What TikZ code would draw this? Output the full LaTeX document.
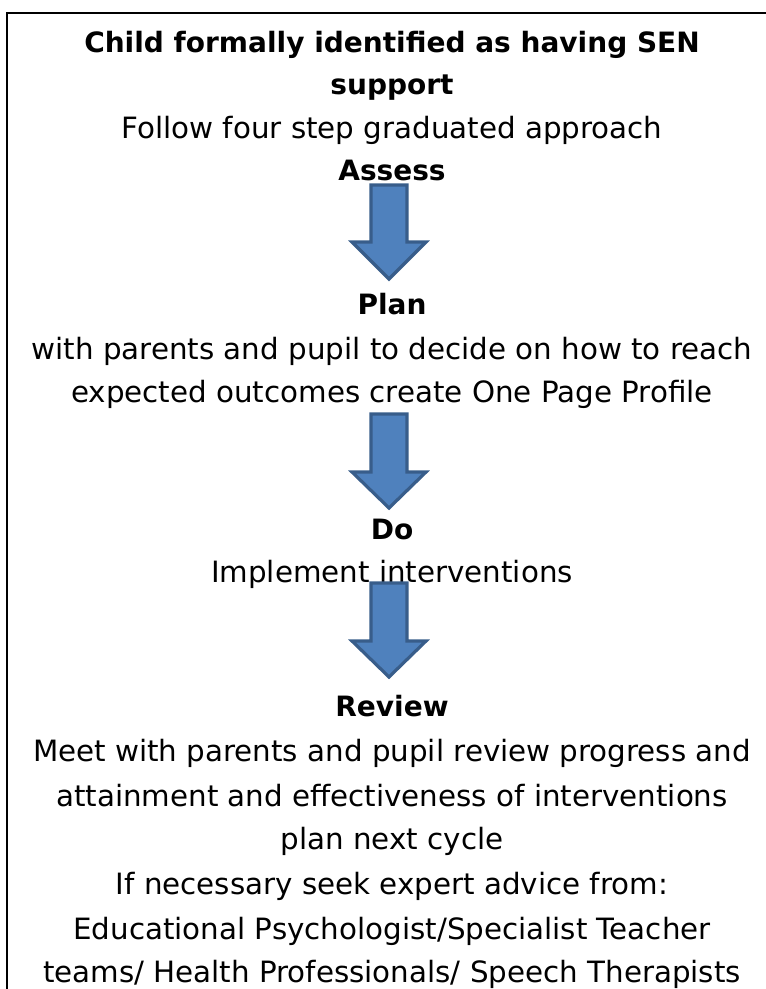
\documentclass[tikz,border=0pt]{standalone}
\usepackage{fontspec}
\setmainfont{DejaVu Sans}
\begin{document}
\begin{tikzpicture}[x=0.75pt,y=-0.75pt,
  txt/.style={anchor=base,inner sep=0pt,font=\fontsize{22}{25}\selectfont},
  btxt/.style={txt,font=\fontsize{21}{24}\selectfont\bfseries},
  downarrow/.style={fill=arrowfill,draw=arrowline,line width=2.4pt,line join=miter}]
\definecolor{arrowfill}{HTML}{4F81BD}
\definecolor{arrowline}{HTML}{385D8A}
\useasboundingbox (0,0) rectangle (766,989);
\draw[line width=2pt] (7,989) -- (7,13) -- (766,13);
% texts
\node[btxt] (t1) at (392,52) {Child formally identified as having SEN};
\node[btxt] (t2) at (392,94) {support};
\node[txt] (t3) at (392,138) {Follow four step graduated approach};
\node[btxt] (assess) at (392,180) {Assess};
\node[btxt] (plan) at (392,314) {Plan};
\node[txt] (p1) at (392,359) {with parents and pupil to decide on how to reach};
\node[txt] (p2) at (392,402) {expected outcomes create One Page Profile};
\node[btxt] (do) at (392,539) {Do};
\node[txt] (d1) at (392,582) {Implement interventions};
\node[btxt] (review) at (392,716) {Review};
\node[txt] (r1) at (392,761) {Meet with parents and pupil review progress and};
\node[txt] (r2) at (392,806) {attainment and effectiveness of interventions};
\node[txt] (r3) at (392,849) {plan next cycle};
\node[txt] (r4) at (392,894) {If necessary seek expert advice from:};
\node[txt] (r5) at (392,939) {Educational Psychologist/Specialist Teacher};
\node[txt] (r6) at (392,982) {teams/ Health Professionals/ Speech Therapists};
% arrows
\foreach \n/\top/\head/\tip in {a1/185/242/279, a2/414/472/508, a3/583/641/677}{
  \draw[downarrow] (371,\top) -- (407,\top) -- (407,\head) -- (426,\head) -- (389,\tip) -- (352,\head) -- (371,\head) -- cycle;
}
\end{tikzpicture}
\end{document}
